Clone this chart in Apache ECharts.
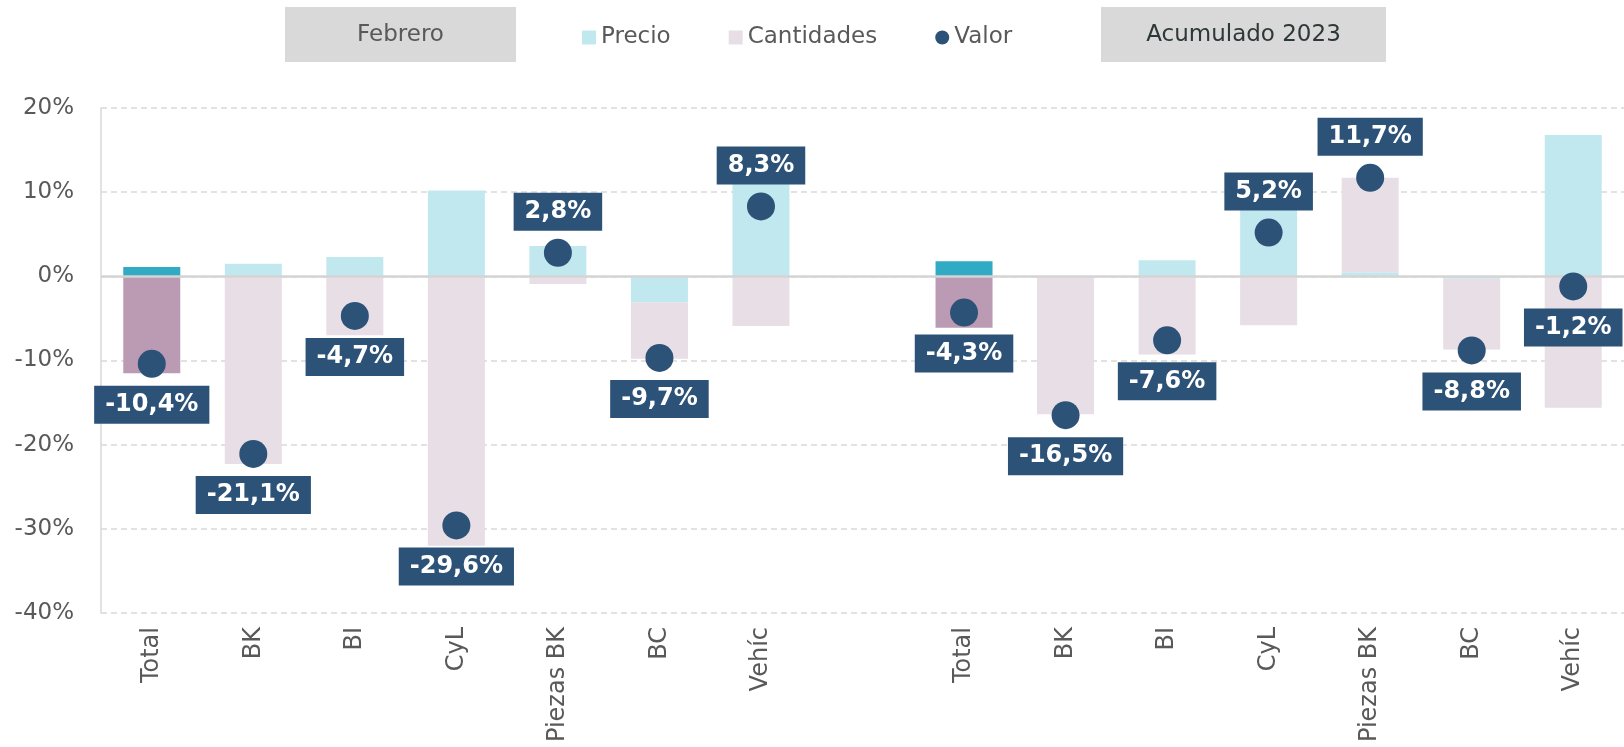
<!DOCTYPE html>
<html>
<head>
<meta charset="utf-8">
<script src="https://cdn.jsdelivr.net/npm/echarts@6/dist/echarts.min.js"></script>
<style>
  html, body { margin: 0; padding: 0; background: #fff; }
  #chart { width: 1624px; height: 747px; }
</style>
</head>
<body>
<div id="chart"></div>
<script>
// categories: Febrero block, empty spacer, Acumulado 2023 block
const categories = ['Total', 'BK', 'BI', 'CyL', 'Piezas BK', 'BC', 'Vehíc', '',
  'Total', 'BK', 'BI', 'CyL', 'Piezas BK', 'BC', 'Vehíc']
// stacked segments, in %
const precio = [1.1, 1.5, 2.3, 10.2, 3.6, -3.1, 11.0, null, 1.8, 0.0, 1.9, 8.0, 0.5, -0.3, 16.8]
const cantidades = [-11.5, -22.3, -7.0, -32.0, -0.9, -6.7, -5.9, null, -6.1, -16.4, -9.3, -5.8, 11.2, -8.4, -15.6]
const valor = [-10.4, -21.1, -4.7, -29.6, 2.8, -9.7, 8.3, null, -4.3, -16.5, -7.6, 5.2, 11.7, -8.8, -1.2]
const yTicks = { min: -40, max: 20, interval: 10 }

const FONT = 'DejaVu Sans'
const GREY_TEXT = '#595959'
const LINE_GREY = '#D9D9D9'
const colPrecio = '#C2E8EF'
const colPrecioTotal = '#31AAC4'
const colCant = '#E8DEE6'
const colCantTotal = '#BA9BB3'
const colValor = '#2D5277'

const isTotal = (i) => categories[i] === 'Total'
const fmt = (v) => v.toFixed(1).replace('.', ',') + '%'

const precioData = precio.map((v, i) => isTotal(i)
  ? { value: v, itemStyle: { color: colPrecioTotal } } : v)
const cantData = cantidades.map((v, i) => isTotal(i)
  ? { value: v, itemStyle: { color: colCantTotal } } : v)
const valorData = valor.map((v) => v === null ? null : {
  value: v,
  label: { position: v >= 0 ? 'top' : 'bottom' },
})

const chart = echarts.init(document.getElementById('chart'))

function headerBox(x, y, w, h, text, color) {
  return {
    type: 'group',
    left: x,
    top: y,
    children: [
      { type: 'rect', shape: { x: 0, y: 0, width: w, height: h }, style: { fill: '#D9D9D9' } },
      {
        type: 'text',
        x: w / 2,
        y: h / 2 + 1,
        style: {
          text,
          fill: color,
          font: '23px "' + FONT + '"',
          align: 'center',
          verticalAlign: 'middle',
        },
      },
    ],
  }
}

const option = {
  animation: false,
  textStyle: { fontFamily: FONT },
  graphic: [
    headerBox(285, 7, 231, 55, 'Febrero', GREY_TEXT),
    headerBox(1101, 7, 285, 55, 'Acumulado 2023', '#2E3838'),
  ],
  legend: {
    left: 577,
    top: 21,
    itemWidth: 14,
    itemHeight: 14,
    itemGap: 58,
    textStyle: { fontSize: 23, color: GREY_TEXT, fontFamily: FONT },
    data: [
      { name: 'Precio', icon: 'rect' },
      { name: 'Cantidades', icon: 'rect' },
      { name: 'Valor', icon: 'circle' },
    ],
  },
  grid: {
    left: 101,
    right: 0,
    top: 108,
    bottom: 134,
  },
  xAxis: {
    type: 'category',
    data: categories,
    axisLine: { show: false, onZero: false },
    axisTick: { show: false },
    axisLabel: {
      interval: 0,
      rotate: 90,
      margin: 14,
      fontSize: 24,
      color: GREY_TEXT,
      fontFamily: FONT,
    },
  },
  yAxis: {
    type: 'value',
    min: yTicks.min,
    max: yTicks.max,
    interval: yTicks.interval,
    axisLine: { show: true, lineStyle: { color: LINE_GREY, width: 1.5 } },
    axisTick: { show: false },
    axisLabel: {
      formatter: '{value}%',
      fontSize: 23,
      margin: 27,
      color: GREY_TEXT,
      fontFamily: FONT,
    },
    splitLine: {
      show: true,
      lineStyle: { color: LINE_GREY, width: 1.5, type: [6, 4] },
    },
  },
  series: [
    {
      name: 'Precio',
      type: 'bar',
      stack: 'v',
      barWidth: 57,
      itemStyle: { color: colPrecio },
      data: precioData,
    },
    {
      name: 'Cantidades',
      type: 'bar',
      stack: 'v',
      barWidth: 57,
      itemStyle: { color: colCant },
      data: cantData,
    },
    {
      name: 'Valor',
      type: 'scatter',
      symbol: 'circle',
      symbolSize: 28,
      z: 5,
      itemStyle: { color: colValor, opacity: 1 },
      label: {
        show: true,
        distance: 8,
        formatter: (p) => fmt(p.value),
        color: '#fff',
        fontWeight: 'bold',
        fontSize: 24,
        fontFamily: FONT,
        lineHeight: 28,
        backgroundColor: colValor,
        padding: [5, 11],
      },
      markLine: {
        silent: true,
        symbol: 'none',
        label: { show: false },
        lineStyle: { color: '#D4D4D4', width: 2.5, type: 'solid' },
        data: [{ yAxis: 0 }],
      },
      data: valorData,
    },
  ],
}

chart.setOption(option)
</script>
</body>
</html>
